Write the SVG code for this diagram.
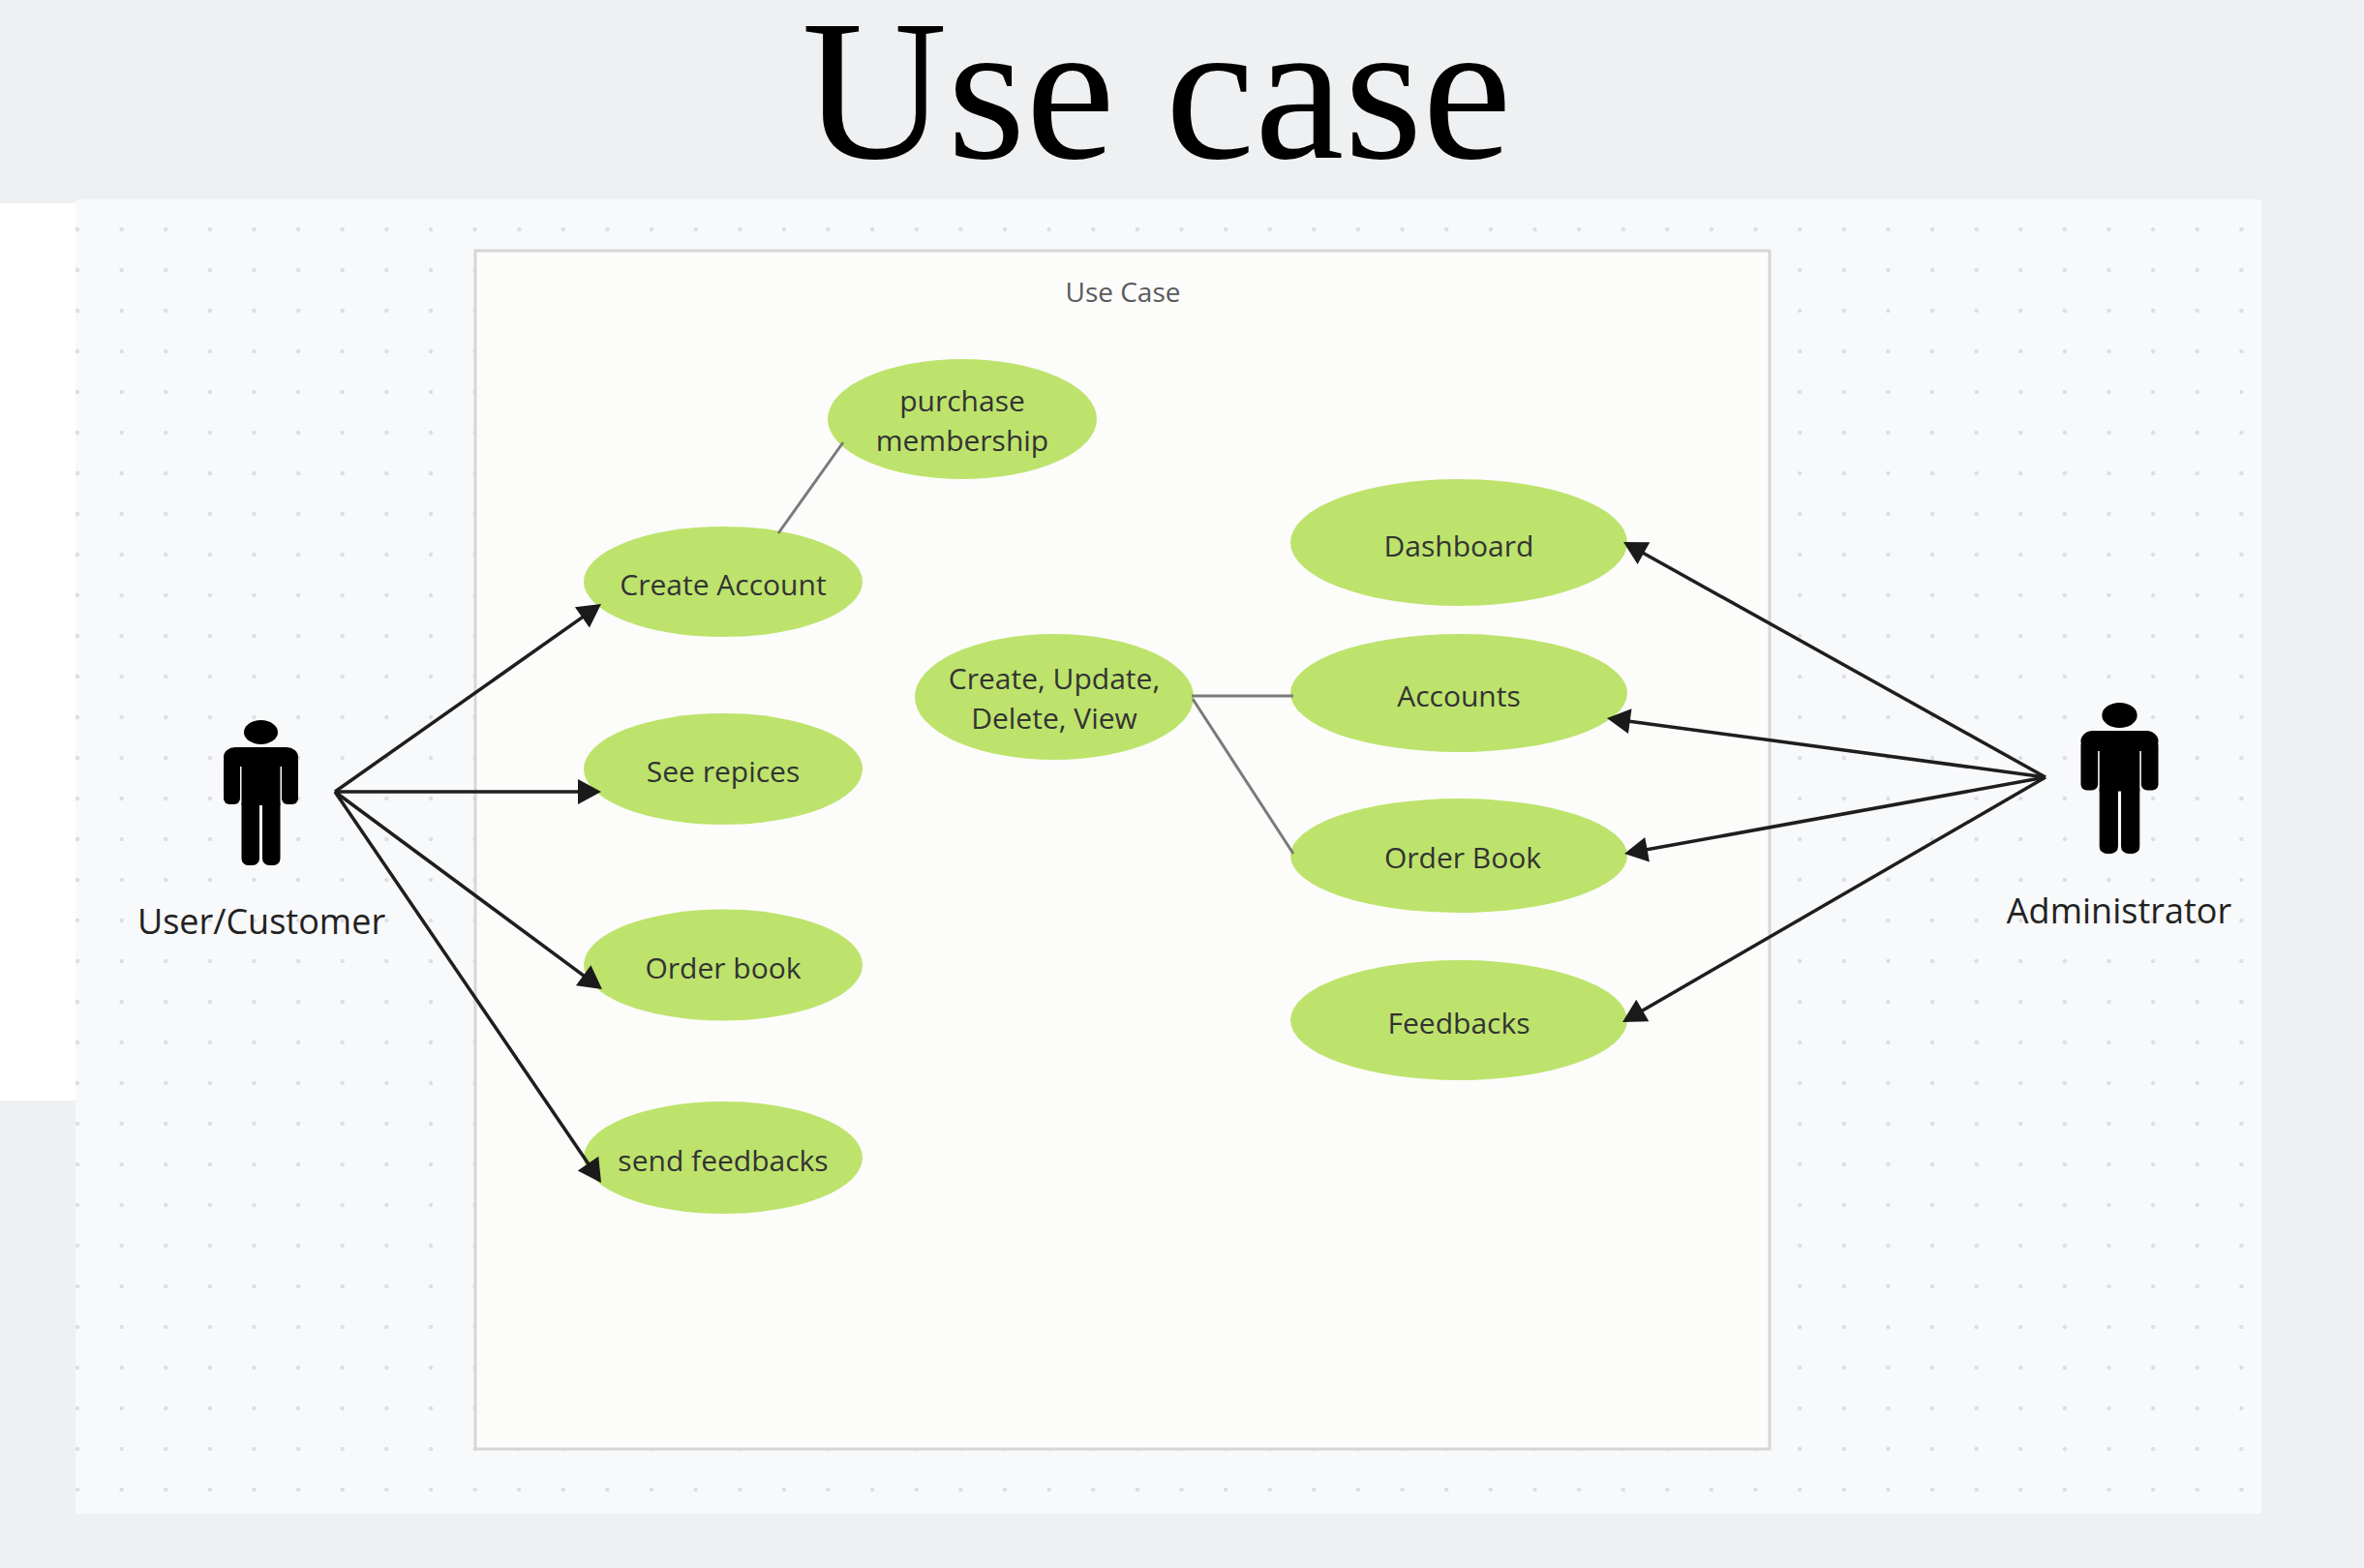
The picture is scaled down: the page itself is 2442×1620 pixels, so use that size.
<svg xmlns="http://www.w3.org/2000/svg" xmlns:xlink="http://www.w3.org/1999/xlink" width="2442" height="1620" viewBox="0 0 2442 1620">
<style>
.uc ellipse { fill: #bde36c; }
.uc text { font-family: "Open Sans", "Noto Sans", "DejaVu Sans", sans-serif; font-size: 30px; fill: #333333; text-anchor: middle; }
.actor-label { font-family: "Open Sans", "Noto Sans", "DejaVu Sans", sans-serif; font-size: 36px; fill: #222222; text-anchor: middle; }
.assoc { stroke: #1e1e1e; stroke-width: 3.5; fill: none; marker-end: url(#arrow); }
.link { stroke: #7a7a7a; stroke-width: 3; fill: none; }
</style>
<defs>
  <pattern id="dots" patternUnits="userSpaceOnUse" x="57.19" y="216" width="45.62" height="42">
    <circle cx="22.81" cy="21" r="2.2" fill="#dcdee2"/>
  </pattern>
  <marker id="arrow" markerUnits="userSpaceOnUse" markerWidth="24" markerHeight="26" refX="6" refY="13" orient="auto" overflow="visible">
    <path d="M0,0 L24,13 L0,26 Z" fill="#1a1a1a"/>
  </marker>
  <g id="actor-shape" fill="#000000">
    <ellipse cx="0" cy="12.5" rx="17.5" ry="12.5"/>
    <rect x="-38.5" y="28" width="77" height="20" rx="12"/>
    <rect x="-38.5" y="36" width="17" height="51" rx="6"/>
    <rect x="21.5" y="36" width="17" height="51" rx="6"/>
    <rect x="-20" y="40" width="40" height="48"/>
    <rect x="-20" y="80" width="18.5" height="70" rx="7"/>
    <rect x="1.5" y="80" width="18.5" height="70" rx="7"/>
  </g>
</defs>

<rect x="0" y="0" width="2442" height="1620" fill="#eff0f2"/>
<rect x="0" y="210" width="78" height="927" fill="#ffffff"/>
<rect x="78" y="206" width="2258" height="1358" fill="#f8f9fb"/>
<rect x="78" y="206" width="2258" height="1358" fill="url(#dots)"/>

<text x="1195" y="163" font-family="'Liberation Serif', 'Times New Roman', serif" font-size="208" fill="#000000" text-anchor="middle">Use case</text>

<g id="system-boundary">
  <rect x="491" y="259" width="1337" height="1238" fill="#fcfcfb" stroke="#d6d6d6" stroke-width="3"/>
  <text x="1160" y="312" font-family="'Open Sans', 'Noto Sans', sans-serif" font-size="28" fill="#5a5a5a" text-anchor="middle">Use Case</text>
</g>

<g id="actor-user">
  <use xlink:href="#actor-shape" href="#actor-shape" transform="translate(269.5,744)"/>
  <text class="actor-label" x="270" y="965">User/Customer</text>
</g>
<g id="actor-admin">
  <use xlink:href="#actor-shape" href="#actor-shape" transform="translate(2189.5,726) scale(1.04)"/>
  <text class="actor-label" x="2189" y="954">Administrator</text>
</g>

<g id="uc-purchase-membership" class="uc">
  <ellipse cx="994" cy="433" rx="139" ry="62"/>
  <text x="994" y="425">purchase</text>
  <text x="994" y="466">membership</text>
</g>
<g id="uc-create-account" class="uc">
  <ellipse cx="747" cy="601" rx="144" ry="57"/>
  <text x="747" y="615">Create Account</text>
</g>
<g id="uc-see-repices" class="uc">
  <ellipse cx="747" cy="794.5" rx="144" ry="57.5"/>
  <text x="747" y="808">See repices</text>
</g>
<g id="uc-order-book-user" class="uc">
  <ellipse cx="747" cy="997" rx="144" ry="57.5"/>
  <text x="747" y="1011">Order book</text>
</g>
<g id="uc-send-feedbacks" class="uc">
  <ellipse cx="747" cy="1196" rx="144" ry="58"/>
  <text x="747" y="1210">send feedbacks</text>
</g>
<g id="uc-crud" class="uc">
  <ellipse cx="1089" cy="720" rx="144" ry="65"/>
  <text x="1089" y="712">Create, Update,</text>
  <text x="1089" y="753">Delete, View</text>
</g>
<g id="uc-dashboard" class="uc">
  <ellipse cx="1507" cy="560.5" rx="174" ry="65.5"/>
  <text x="1507" y="575">Dashboard</text>
</g>
<g id="uc-accounts" class="uc">
  <ellipse cx="1507" cy="716" rx="174" ry="61"/>
  <text x="1507" y="730">Accounts</text>
</g>
<g id="uc-order-book-admin" class="uc">
  <ellipse cx="1507" cy="884" rx="174" ry="59"/>
  <text x="1511" y="897">Order Book</text>
</g>
<g id="uc-feedbacks" class="uc">
  <ellipse cx="1507" cy="1054" rx="174" ry="62"/>
  <text x="1507" y="1068">Feedbacks</text>
</g>

<g id="connectors">
  <line class="link" x1="804" y1="551" x2="871" y2="457"/>
  <line class="link" x1="1231" y1="719" x2="1336" y2="719"/>
  <line class="link" x1="1232" y1="722" x2="1336" y2="882"/>

  <line class="assoc" x1="346" y1="818" x2="606.3" y2="634.4"/>
  <line class="assoc" x1="346" y1="818" x2="603" y2="818"/>
  <line class="assoc" x1="346" y1="818" x2="607.5" y2="1011.3"/>
  <line class="assoc" x1="346" y1="818" x2="610.9" y2="1207.1"/>

  <line class="assoc" x1="2113" y1="803" x2="1692.7" y2="568.8"/>
  <line class="assoc" x1="2113" y1="803" x2="1677.8" y2="744.4"/>
  <line class="assoc" x1="2113" y1="803" x2="1695.7" y2="878.8"/>
  <line class="assoc" x1="2113" y1="803" x2="1691.6" y2="1047"/>
</g>
</svg>
